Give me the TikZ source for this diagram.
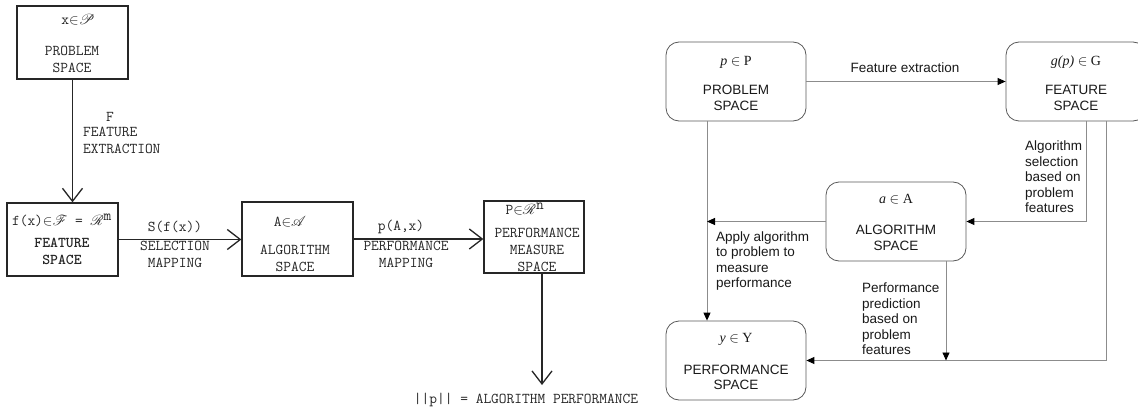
\documentclass[tikz,border=0pt]{standalone}
\usepackage{fontspec}
\usepackage{amssymb}
\usepackage{mathrsfs}
\usetikzlibrary{arrows.meta,calc}
\newfontfamily\sansf{Liberation Sans}
\newfontfamily\seriff{Liberation Serif}
\tikzset{
  oldbox/.style={draw=black!85, line width=1.3pt, inner sep=0pt},
  oldtxt/.style={font=\ttfamily\addfontfeature{FakeBold=0.6}\fontsize{15}{17}\selectfont, text=black!85, inner sep=0pt, align=center},
  oldarrow/.style={draw=black!85, line width=1.3pt, -{Straight Barb[length=13pt,width=20pt,line width=1.3pt]}},
  newbox/.style={draw=black!65, line width=0.8pt, rounded corners=13pt, inner sep=0pt, minimum width=140pt, minimum height=79pt},
  newline/.style={draw=black!45, line width=0.9pt},
  newarrow/.style={newline, -{Triangle[length=8pt,width=7pt,color=black]}},
  newtxt/.style={font=\sansf\fontsize{13.5}{15.5}\selectfont, text=black!90, inner sep=0pt},
  mathtxt/.style={font=\seriff\fontsize{14}{16}\selectfont, text=black!90, inner sep=0pt}
}
\begin{document}
\begin{tikzpicture}[x=1pt,y=-1pt]
\useasboundingbox (0,0) rectangle (1138,412);
\fill[white] (0,0) rectangle (1138,412);
% ---------------- left (old) diagram ----------------
\node[oldbox, minimum width=111pt, minimum height=73pt] (L1) at (72.5,42.5) {};
\node[oldtxt] (L1m) at (78,20) {x$\mathord{\in}\mathscr{P}$};
\node[oldtxt] (L1t) at (72,59) {PROBLEM\\SPACE};

\node[oldbox, minimum width=111pt, minimum height=73pt] (L2) at (62.5,239.5) {};
\node[oldtxt] (L2m) at (62,220) {f(x)$\mathord{\in}\mathscr{F}$ = $\mathscr{R}^{\texttt{m}}$};
\node[oldtxt, font=\ttfamily\bfseries\fontsize{15}{17}\selectfont] (L2t) at (62,251.5) {FEATURE\\SPACE};

\node[oldbox, minimum width=111pt, minimum height=74pt] (L3) at (297.5,239) {};
\node[oldtxt] (L3m) at (290,222) {A$\mathord{\in}\mathscr{A}$};
\node[oldtxt] (L3t) at (295,258.5) {ALGORITHM\\SPACE};

\node[oldbox, minimum width=100pt, minimum height=72pt] (L4) at (534,237) {};
\node[oldtxt] (L4m) at (525,209) {P$\mathord{\in}\mathscr{R}^{\texttt{n}}$};
\node[oldtxt] (L4t) at (537,250) {PERFORMANCE\\MEASURE\\SPACE};

\draw[oldarrow] (L1.south) -- (L1.south |- L2.north);
\node[oldtxt] (Fl) at (110,117) {F};
\node[oldtxt, anchor=west, align=left] (Fe) at (83,140.5) {FEATURE\\EXTRACTION};

\draw[oldarrow] (L2.east) -- (L2.east -| L3.west);
\node[oldtxt] (Sa) at (175,227) {S(f(x))};
\node[oldtxt] (Sb) at (175,254.5) {SELECTION\\MAPPING};

\draw[oldarrow] (L3.east) -- (L3.east -| L4.west);
\node[oldtxt] (Pa) at (401,227) {p(A,x)};
\node[oldtxt] (Pb) at (406,254.5) {PERFORMANCE\\MAPPING};

\node[oldtxt] (Ap) at (526,400) {||p|| = ALGORITHM PERFORMANCE};
\draw[oldarrow] ([xshift=8pt]L4.south) -- ([xshift=8pt]L4.south |- 0,385);

% ---------------- right (new) diagram ----------------
\node[newbox] (pb) at (736,81.5) {};
\node[mathtxt] (pbm) at (736,62) {\itshape p \upshape$\in$ P};
\node[newtxt, align=center] (pbt) at (736,98) {PROBLEM\\SPACE};

\node[newbox] (fb) at (1076,81.5) {};
\node[mathtxt] (fbm) at (1076,62) {\itshape g(p) \upshape$\in$ G};
\node[newtxt, align=center] (fbt) at (1076,98) {FEATURE\\SPACE};

\node[newbox] (ab) at (896,221.5) {};
\node[mathtxt] (abm) at (896,199) {\itshape a \upshape$\in$ A};
\node[newtxt, align=center] (abt) at (896,238) {ALGORITHM\\SPACE};

\node[newbox] (yb) at (736,360.5) {};
\node[mathtxt] (ybm) at (736,339) {\itshape y \upshape$\in$ Y};
\node[newtxt, align=center] (ybt) at (736,377.5) {PERFORMANCE\\SPACE};

\draw[newarrow] (pb.east) -- (fb.west);
\node[newtxt] (fe) at (905,68) {Feature extraction};

\draw[newarrow] ([xshift=10pt]fb.south) |- (ab.east);
\node[newtxt, anchor=west, align=left] (sel) at (1025,177) {Algorithm\\selection\\based on\\problem\\features};

\draw[newarrow] ([xshift=30pt]fb.south) |- (yb.east);

\draw[newarrow] ([xshift=-29pt]pb.south) -- ([xshift=-29pt]yb.north);
\draw[newarrow] (ab.west) -- (ab.west -| {$(pb.south)+(-29pt,0)$});
\node[newtxt, anchor=west, align=left] (apl) at (716,261) {Apply algorithm\\to problem to\\measure\\performance};

\draw[newarrow] ([xshift=50pt]ab.south) -- ([xshift=50pt]ab.south |- yb.east);
\node[newtxt, anchor=west, align=left] (ppl) at (862,319) {Performance\\prediction\\based on\\problem\\features};
\end{tikzpicture}
\end{document}
